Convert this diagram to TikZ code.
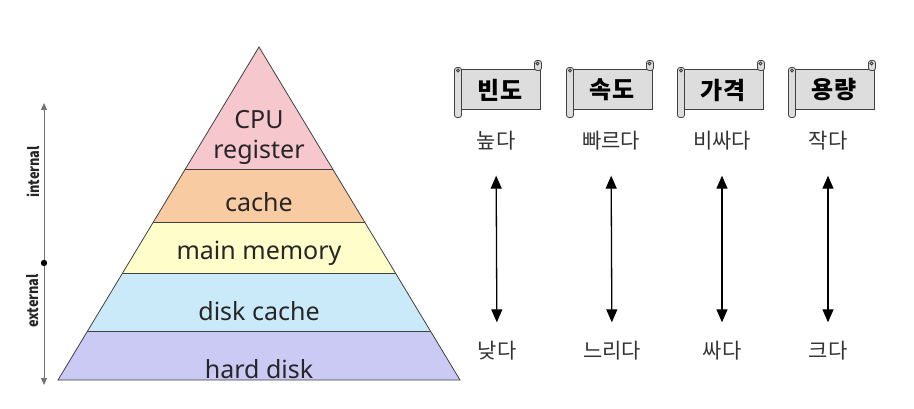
\documentclass[tikz,border=0pt]{standalone}
\usepackage{fontspec}
\setmainfont{Noto Sans CJK KR}
\newfontfamily\latinfont{Noto Sans}
\usepackage{tikz}
\usetikzlibrary{arrows.meta,calc}

\definecolor{regpink}{RGB}{246,200,205}
\definecolor{cacheorange}{RGB}{248,203,162}
\definecolor{memyellow}{RGB}{255,253,202}
\definecolor{dcblue}{RGB}{202,234,249}
\definecolor{hddlilac}{RGB}{203,202,245}
\definecolor{scrollgray}{RGB}{221,221,221}

% scroll label: name, x, y, text
\newcommand{\scrollbox}[4]{%
  \node[scroll] (#1) at (#2,#3) {#4};
  \draw[rollpart] ($(#1.north east)+(-6,-9)$) rectangle ($(#1.north east)+(1,1)$);
  \draw[rollpart] ($(#1.north east)+(-3,-6)$) circle (1.5);
  \draw[rollpart] ($(#1.north west)+(-5,-2)$) rectangle ($(#1.south west)+(2,7)$);
  \draw[rollpart] ($(#1.north west)+(-1.5,1)$) circle (1.5);
}

\begin{document}
\begin{tikzpicture}[
  x=1pt, y=-1pt,
  band/.style={draw=black!75, line width=0.8pt},
  lvl/.style={font=\latinfont\fontsize{25}{30}\selectfont, text=black!85, align=center,
              inner sep=0pt},
  scroll/.style={rectangle, draw=black!75, fill=scrollgray, line width=1pt,
                 minimum width=80pt, minimum height=40pt, inner sep=0pt,
                 font=\fontsize{24}{26}\selectfont\bfseries},
  rollpart/.style={draw=black!75, fill=scrollgray, line width=0.8pt,
                   rounded corners=2.5pt},
  prop/.style={font=\fontsize{21}{23}\selectfont, text=black!80,
               text height=15pt, text depth=4pt, inner sep=2pt},
  updown/.style={{Triangle[length=13pt,width=11pt]}-{Triangle[length=13pt,width=11pt]},
                 line width=1.3pt, shorten <=21pt, shorten >=19pt},
  side/.style={font=\fontsize{15}{17}\selectfont\bfseries, rotate=90, text=black!85}
]
  \useasboundingbox (0,0) rectangle (914,409);

  % pyramid
  \begin{scope}
    \clip (259,47) -- (460,380) -- (58,380) -- cycle;
    \fill[regpink] (40,40) rectangle (480,169);
    \fill[cacheorange] (40,169) rectangle (480,222);
    \fill[memyellow] (40,222) rectangle (480,273);
    \fill[dcblue] (40,273) rectangle (480,331);
    \fill[hddlilac] (40,331) rectangle (480,390);
    \draw[band] (40,169) -- (480,169);
    \draw[band] (40,222) -- (480,222);
    \draw[band] (40,273) -- (480,273);
    \draw[band] (40,331) -- (480,331);
  \end{scope}
  \draw[band] (259,47) -- (460,380) -- (58,380) -- cycle;

  \node[lvl] (reg) at (259,137) {CPU\\register};
  \node[lvl] (cache) at (259,202) {cache};
  \node[lvl] (mem) at (259,253) {main memory};
  \node[lvl] (dcache) at (259,311) {disk cache};
  \node[lvl] (hdd) at (259,369) {hard disk};

  % internal / external axis
  \coordinate (axtop) at (44,103);
  \coordinate (axmid) at (44,263);
  \coordinate (axbot) at (44,385);
  \draw[{Triangle[length=7pt,width=6pt]}-{Triangle[length=7pt,width=6pt]},
        draw=black!55, line width=1pt] (axtop) -- (axbot);
  \fill (axmid) circle (3.2);
  \node[side, xscale=0.85] (int) at (33,172) {internal};
  \node[side, xscale=0.85] (ext) at (33,301) {external};

  % scrolls
  \scrollbox{freq}{500}{90}{빈도}
  \scrollbox{speed}{612}{90}{속도}
  \scrollbox{price}{723}{90}{가격}
  \scrollbox{size}{834}{90}{용량}

  \node[prop] (freqhi) at (496,143) {높다};
  \node[prop] (speedhi) at (611,143) {빠르다};
  \node[prop] (pricehi) at (722,143) {비싸다};
  \node[prop] (sizehi) at (828,143) {작다};

  \node[prop] (freqlo) at (497,353) {낮다};
  \node[prop] (speedlo) at (612,353) {느리다};
  \node[prop] (pricelo) at (722,353) {싸다};
  \node[prop] (sizelo) at (828,353) {크다};

  \draw[updown] (freqhi) -- (freqlo);
  \draw[updown] (speedhi) -- (speedlo);
  \draw[updown] (pricehi) -- (pricelo);
  \draw[updown] (sizehi) -- (sizelo);
\end{tikzpicture}
\end{document}
